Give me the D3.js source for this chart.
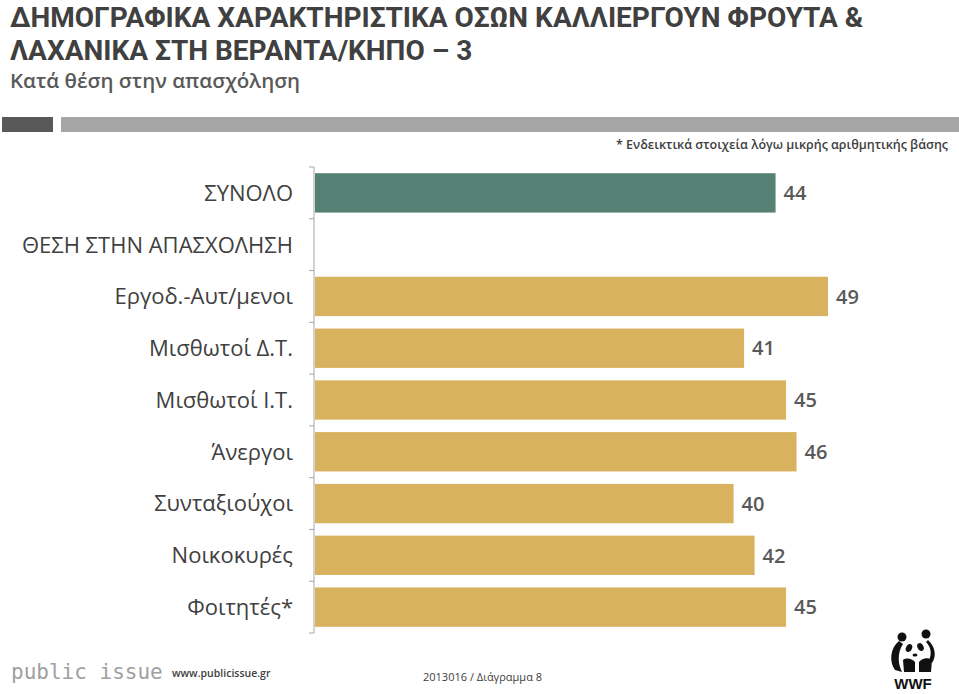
<!DOCTYPE html>
<html lang="el">
<head>
    <meta charset="UTF-8">
    <title>Δημογραφικά χαρακτηριστικά - θέση στην απασχόληση</title>
    <script src="https://d3js.org/d3.v7.min.js"></script>
    <style>
        body { margin: 0; background: #fff; }
        svg { display: block; font-family: "Open Sans", sans-serif; }
        .title { font-family: Roboto, "Open Sans", sans-serif; font-weight: 700; fill: #404040; }
        .subtitle { font-weight: 600; fill: #595959; }
        .cat { fill: #404040; }
        .val { font-weight: 600; fill: #595959; }
        .axis line { stroke: #a6a6a6; stroke-width: 1px; }
    </style>
</head>
<body>
<div id="chart"></div>
<script>
    // Δεδομένα
    const categories = ["ΣΥΝΟΛΟ", "ΘΕΣΗ ΣΤΗΝ ΑΠΑΣΧΟΛΗΣΗ", "Εργοδ.-Αυτ/μενοι", "Μισθωτοί Δ.Τ.",
        "Μισθωτοί Ι.Τ.", "Άνεργοι", "Συνταξιούχοι", "Νοικοκυρές", "Φοιτητές*"];
    const values = [44, null, 49, 41, 45, 46, 40, 42, 45];
    const totalCategory = "ΣΥΝΟΛΟ";

    const titleLines = ["ΔΗΜΟΓΡΑΦΙΚΑ ΧΑΡΑΚΤΗΡΙΣΤΙΚΑ ΟΣΩΝ ΚΑΛΛΙΕΡΓΟΥΝ ΦΡΟΥΤΑ &",
        "ΛΑΧΑΝΙΚΑ ΣΤΗ ΒΕΡΑΝΤΑ/ΚΗΠΟ – 3"];
    const subtitle = "Κατά θέση στην απασχόληση";
    const note = "* Ενδεικτικά στοιχεία λόγω μικρής αριθμητικής βάσης";

    const width = 959, height = 694;

    const svg = d3.select("#chart")
        .append("svg")
        .attr("width", width)
        .attr("height", height);

    // Τίτλος
    svg.selectAll(".title")
        .data(titleLines)
        .enter()
        .append("text")
        .attr("class", "title")
        .attr("x", 10)
        .attr("y", (d, i) => 26.5 + i * 33)
        .style("font-size", "28px")
        .text(d => d);

    svg.append("text")
        .attr("class", "subtitle")
        .attr("x", 10)
        .attr("y", 88)
        .style("font-size", "20.5px")
        .text(subtitle);

    // Γκρι λωρίδες
    svg.append("rect").attr("x", 2).attr("y", 117).attr("width", 51).attr("height", 15).attr("fill", "#595959");
    svg.append("rect").attr("x", 61).attr("y", 117).attr("width", 898).attr("height", 15).attr("fill", "#a6a6a6");

    svg.append("text")
        .attr("x", 948)
        .attr("y", 149)
        .attr("text-anchor", "end")
        .style("font-size", "12.5px")
        .style("font-weight", 600)
        .style("fill", "#404040")
        .text(note);

    // Κλίμακες
    const x = d3.scaleLinear().domain([0, 50]).range([314, 838.5]);
    const y = d3.scaleBand()
        .domain(categories)
        .range([167, 633])
        .paddingInner(0.24)
        .paddingOuter(0.12);

    const data = categories.map((c, i) => ({cat: c, value: values[i]}));

    // Άξονας (γραμμή και υποδιαιρέσεις στα όρια των κατηγοριών)
    const axis = svg.append("g").attr("class", "axis");
    axis.append("line")
        .attr("x1", x(0)).attr("x2", x(0))
        .attr("y1", y.range()[0]).attr("y2", y.range()[1]);

    const bounds = categories.map(c => y(c) - y.step() * y.paddingInner() / 2)
        .concat([y.range()[1]]);
    axis.selectAll(".tick")
        .data(bounds)
        .enter()
        .append("line")
        .attr("class", "tick")
        .attr("x1", x(0) - 5).attr("x2", x(0))
        .attr("y1", d => d).attr("y2", d => d);

    // Μπάρες
    const withValue = data.filter(d => d.value !== null);

    svg.selectAll(".bar")
        .data(withValue)
        .enter()
        .append("rect")
        .attr("class", "bar")
        .attr("x", x(0) + 1)
        .attr("y", d => y(d.cat))
        .attr("width", d => x(d.value) - x(0) - 1)
        .attr("height", y.bandwidth())
        .attr("fill", d => d.cat === totalCategory ? "#558174" : "#d8b25e");

    svg.selectAll(".val")
        .data(withValue)
        .enter()
        .append("text")
        .attr("class", "val")
        .attr("x", d => x(d.value) + 8)
        .attr("y", d => y(d.cat) + y.bandwidth() / 2)
        .attr("dy", "0.36em")
        .style("font-size", "20px")
        .text(d => d.value);

    // Ετικέτες κατηγοριών
    svg.selectAll(".cat")
        .data(data)
        .enter()
        .append("text")
        .attr("class", "cat")
        .attr("x", 293)
        .attr("y", d => y(d.cat) + y.bandwidth() / 2)
        .attr("dy", "0.36em")
        .attr("text-anchor", "end")
        .style("font-size", "22px")
        .text(d => d.cat);

    // Υποσέλιδο
    svg.append("text")
        .attr("x", 11)
        .attr("y", 679)
        .style("font-family", "'DejaVu Sans Mono', monospace")
        .style("font-size", "21px")
        .style("fill", "#a0a0a0")
        .text("public issue");

    svg.append("text")
        .attr("x", 172)
        .attr("y", 677)
        .style("font-size", "10.5px")
        .style("font-weight", 600)
        .style("fill", "#404040")
        .text("www.publicissue.gr");

    svg.append("text")
        .attr("x", 423)
        .attr("y", 681)
        .style("font-size", "11px")
        .style("fill", "#404040")
        .text("2013016 / Διάγραμμα 8");

    // Λογότυπο WWF (απλοποιημένο πάντα)
    const logo = svg.append("g").attr("transform", "translate(882,622)");
    const ink = "#111";
    logo.append("circle").attr("cx", 20).attr("cy", 15).attr("r", 4.5).attr("fill", ink);
    logo.append("circle").attr("cx", 44).attr("cy", 12).attr("r", 4.5).attr("fill", ink);
    logo.append("path").attr("fill", ink)
        .attr("d", "M17,19 C8,26 7,40 13,48 L20,50 C16,42 15,31 21,22 Z");
    logo.append("path").attr("fill", ink)
        .attr("d", "M21,38 C25,35 30,37 33,40 L33,50 L22,50 Z");
    logo.append("path").attr("fill", ink)
        .attr("d", "M37,40 C40,36 46,35 50,38 L49,50 L37,50 Z");
    logo.append("path").attr("fill", ink)
        .attr("d", "M46,18 C53,24 55,34 50,41 L47,38 C50,32 49,25 44,20 Z");
    logo.append("ellipse").attr("cx", 27).attr("cy", 26).attr("rx", 3).attr("ry", 4.2)
        .attr("transform", "rotate(25,27,26)").attr("fill", ink);
    logo.append("ellipse").attr("cx", 38.5).attr("cy", 25).attr("rx", 3).attr("ry", 4.2)
        .attr("transform", "rotate(-25,38.5,25)").attr("fill", ink);
    logo.append("ellipse").attr("cx", 33).attr("cy", 33).attr("rx", 2.5).attr("ry", 1.6).attr("fill", ink);
    logo.append("text")
        .attr("x", 31)
        .attr("y", 67)
        .attr("text-anchor", "middle")
        .style("font-family", "'Liberation Sans', Arial, sans-serif")
        .style("font-size", "15px")
        .style("font-weight", 700)
        .style("fill", ink)
        .text("WWF");
</script>
</body>
</html>
